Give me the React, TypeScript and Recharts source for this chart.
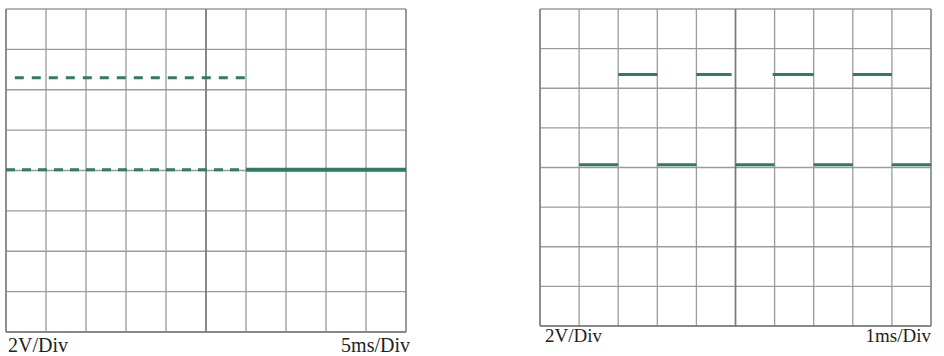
import { LineChart, Line, XAxis, YAxis, CartesianGrid, ReferenceLine } from "recharts";

// grid divisions (10 horizontal x 8 vertical)
const xTicks = [0, 1, 2, 3, 4, 5, 6, 7, 8, 9, 10];
const yTicks = [-4, -3, -2, -1, 0, 1, 2, 3, 4];

// left scope: 2V/Div, 5ms/Div
const leftTopDashed = [
  { t: 0.22, v: 2.3 },
  { t: 6, v: 2.3 },
];
const leftBaseDashed = [
  { t: 0, v: 0.02 },
  { t: 6, v: 0.02 },
];
const leftBaseSolid = [
  { t: 6, v: 0.02 },
  { t: 10, v: 0.02 },
];

// right scope: 2V/Div, 1ms/Div
const rightHighSegs = [
  [2, 3],
  [4, 4.9],
  [5.95, 7],
  [8, 9],
];
const rightLowSegs = [
  [1, 2],
  [3, 4],
  [5, 6],
  [7, 8],
  [9, 10],
];
const rightHighLevel = 2.35;
const rightLowLevel = 0.07;

const TRACE = "#2f7d5b";
const GRID = "#9b9b9b";

function segmentsToData(segs: number[][], level: number) {
  const out: { t: number; v: number | null }[] = [];
  segs.forEach(([a, b]) => {
    out.push({ t: a, v: level });
    out.push({ t: b, v: level });
    out.push({ t: b, v: null });
  });
  return out;
}

function Scope({
  width,
  height,
  margin,
  children,
}: {
  width: number;
  height: number;
  margin: { top: number; right: number; bottom: number; left: number };
  children: any;
}) {
  return (
    <LineChart width={width} height={height} margin={margin}>
      <CartesianGrid stroke={GRID} strokeWidth={1.3} />
      <XAxis
        type="number"
        dataKey="t"
        domain={[0, 10]}
        ticks={xTicks}
        hide
        allowDataOverflow
      />
      <YAxis type="number" domain={[-4, 4]} ticks={yTicks} hide allowDataOverflow />
      <ReferenceLine x={5} stroke="#7a7a7a" strokeWidth={1.6} />
      <ReferenceLine x={0} stroke="#7a7a7a" strokeWidth={1.4} />
      <ReferenceLine x={10} stroke="#8a8a8a" strokeWidth={1.4} />
      <ReferenceLine y={-4} stroke="#7a7a7a" strokeWidth={1.4} />
      {children}
    </LineChart>
  );
}

const labelStyle: any = {
  position: "absolute",
  fontFamily: "'Liberation Serif', 'DejaVu Serif', serif",
  fontSize: 19,
  color: "#222",
  whiteSpace: "nowrap",
};

export default function App() {
  const rightData = [
    ...segmentsToData(rightLowSegs, rightLowLevel),
  ];
  const rightHigh = segmentsToData(rightHighSegs, rightHighLevel);
  return (
    <div
      style={{
        position: "absolute",
        left: 0,
        top: 0,
        width: 944,
        height: 356,
        background: "#fff",
      }}
    >
      <div style={{ position: "absolute", left: 0, top: 0 }}>
        <Scope
          width={420}
          height={340}
          margin={{ top: 9, right: 14, bottom: 8, left: 6 }}
        >
          <Line
            data={leftTopDashed}
            dataKey="v"
            stroke={TRACE}
            strokeWidth={3}
            strokeDasharray="9 8"
            dot={false}
            isAnimationActive={false}
          />
          <Line
            data={leftBaseDashed}
            dataKey="v"
            stroke={TRACE}
            strokeWidth={3}
            strokeDasharray="9 7"
            dot={false}
            isAnimationActive={false}
          />
          <Line
            data={leftBaseSolid}
            dataKey="v"
            stroke={TRACE}
            strokeWidth={4}
            dot={false}
            isAnimationActive={false}
          />
        </Scope>
      </div>
      <div style={{ position: "absolute", left: 525, top: 0 }}>
        <Scope
          width={419}
          height={340}
          margin={{ top: 9, right: 13, bottom: 14, left: 15 }}
        >
          <Line
            data={rightData}
            dataKey="v"
            stroke={TRACE}
            strokeWidth={3}
            dot={false}
            connectNulls={false}
            isAnimationActive={false}
          />
          <Line
            data={rightHigh}
            dataKey="v"
            stroke={TRACE}
            strokeWidth={3}
            dot={false}
            connectNulls={false}
            isAnimationActive={false}
          />
        </Scope>
      </div>
      <div style={{ ...labelStyle, left: 8, top: 334, fontSize: 20 }}>2V/Div</div>
      <div style={{ ...labelStyle, left: 0, width: 410, top: 334, textAlign: "right", fontSize: 20 }}>
        5ms/Div
      </div>
      <div style={{ ...labelStyle, left: 545, top: 325 }}>2V/Div</div>
      <div style={{ ...labelStyle, left: 0, width: 931, top: 325, textAlign: "right" }}>
        1ms/Div
      </div>
    </div>
  );
}
